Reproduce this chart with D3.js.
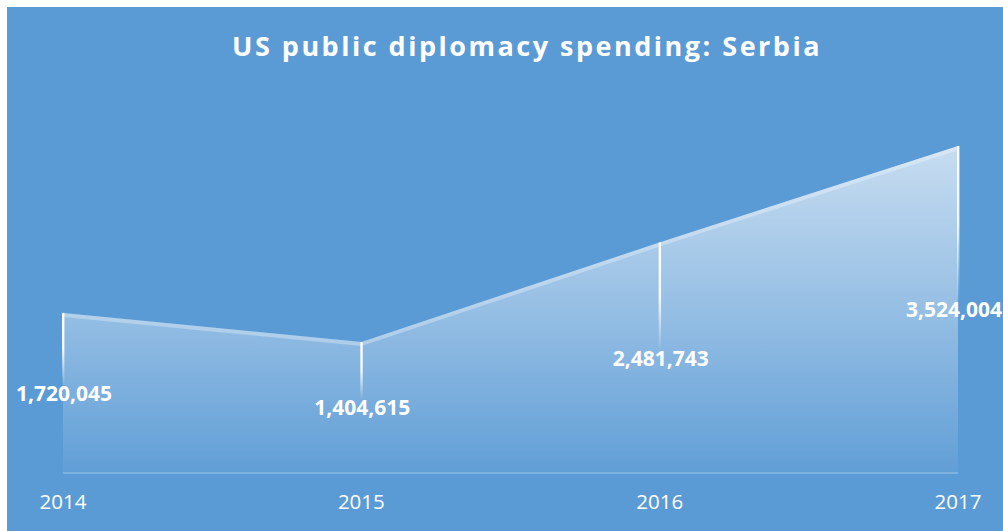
<!DOCTYPE html>
<html lang="en">
<head>
  <meta charset="UTF-8" />
  <title>US public diplomacy spending: Serbia</title>
  <script src="https://d3js.org/d3.v7.min.js"></script>
  <style>
    body {
      margin: 0;
      background: #fff;
    }

    svg {
      display: block;
    }

    .title {
      font-family: "Open Sans", sans-serif;
      font-weight: bold;
      font-size: 27px;
      letter-spacing: 2.5px;
      fill: #fff;
    }

    .value-label {
      font-family: "Open Sans", sans-serif;
      font-weight: bold;
      font-size: 21px;
      fill: #fff;
    }

    .axis-label {
      font-family: "Open Sans", sans-serif;
      font-size: 20.5px;
      fill: #fff;
    }
  </style>
</head>
<body>
  <svg id="chart" width="1003" height="531"></svg>

  <script>
    const years = ["2014", "2015", "2016", "2017"];
    const spending = [1720045, 1404615, 2481743, 3524004];
    // how far below each point its label sits (hand placed in the original)
    const labelDy = [88, 73, 124, 171];

    const width = 1003, height = 531;
    const svg = d3.select("#chart");

    svg.append("rect")
      .attr("x", 7).attr("y", 7)
      .attr("width", width - 7).attr("height", height - 7)
      .attr("fill", "#5b9bd5");

    const x = d3.scalePoint().domain(years).range([63, 958]);
    const y = d3.scaleLinear().domain([0, 4000000]).range([472, 102]);

    const data = years.map((yr, i) => ({ year: yr, value: spending[i], dy: labelDy[i] }));

    const defs = svg.append("defs");

    const areaGrad = defs.append("linearGradient")
      .attr("id", "areaGrad")
      .attr("gradientUnits", "userSpaceOnUse")
      .attr("x1", 0).attr("x2", 0)
      .attr("y1", y(d3.max(spending))).attr("y2", y(0));
    areaGrad.append("stop").attr("offset", 0).attr("stop-color", "#fff").attr("stop-opacity", 0.66);
    areaGrad.append("stop").attr("offset", 0.5).attr("stop-color", "#fff").attr("stop-opacity", 0.36);
    areaGrad.append("stop").attr("offset", 1).attr("stop-color", "#fff").attr("stop-opacity", 0.04);

    const area = d3.area()
      .x(d => x(d.year))
      .y0(y(0))
      .y1(d => y(d.value));

    svg.append("path")
      .datum(data)
      .attr("d", area)
      .attr("fill", "url(#areaGrad)");

    // soft light edge along the top of the area
    svg.append("path")
      .datum(data)
      .attr("d", d3.line().x(d => x(d.year)).y(d => y(d.value) + 2))
      .attr("fill", "none")
      .attr("stroke", "#fff")
      .attr("stroke-opacity", 0.3)
      .attr("stroke-width", 4);

    // baseline
    svg.append("line")
      .attr("x1", x(years[0])).attr("x2", x(years[years.length - 1]))
      .attr("y1", y(0) + 1).attr("y2", y(0) + 1)
      .attr("stroke", "#fff")
      .attr("stroke-opacity", 0.22)
      .attr("stroke-width", 2);

    // drop lines fading towards the labels
    data.forEach((d, i) => {
      const top = y(d.value);
      const bottom = top + d.dy - 16;
      const g = defs.append("linearGradient")
        .attr("id", "drop" + i)
        .attr("gradientUnits", "userSpaceOnUse")
        .attr("x1", 0).attr("x2", 0)
        .attr("y1", top).attr("y2", bottom);
      g.append("stop").attr("offset", 0).attr("stop-color", "#fff").attr("stop-opacity", 1);
      g.append("stop").attr("offset", 0.5).attr("stop-color", "#fff").attr("stop-opacity", 0.9);
      g.append("stop").attr("offset", 1).attr("stop-color", "#fff").attr("stop-opacity", 0);

      svg.append("rect")
        .attr("x", x(d.year) - 1)
        .attr("y", top)
        .attr("width", 2.4)
        .attr("height", bottom - top)
        .attr("fill", "url(#drop" + i + ")");
    });

    svg.append("g")
      .selectAll("text")
      .data(data)
      .join("text")
      .attr("class", "value-label")
      .attr("x", d => x(d.year) + 1)
      .attr("y", d => y(d.value) + d.dy)
      .attr("text-anchor", "middle")
      .text(d => d3.format(",")(d.value))
      .each(function () {
        // keep the last label inside the frame
        const b = this.getBBox();
        const over = b.x + b.width - (width - 1);
        if (over > 0) d3.select(this).attr("x", +this.getAttribute("x") - over);
      });

    svg.append("g")
      .selectAll("text")
      .data(years)
      .join("text")
      .attr("class", "axis-label")
      .attr("x", d => x(d))
      .attr("y", 509)
      .attr("text-anchor", "middle")
      .text(d => d);

    svg.append("text")
      .attr("class", "title")
      .attr("x", 527)
      .attr("y", 56)
      .attr("text-anchor", "middle")
      .text("US public diplomacy spending: Serbia");
  </script>
</body>
</html>
